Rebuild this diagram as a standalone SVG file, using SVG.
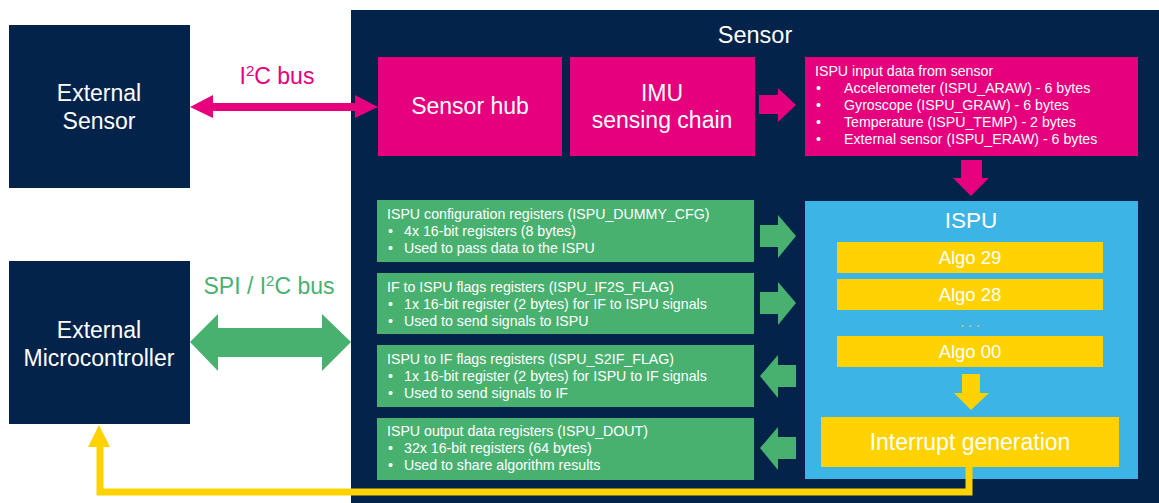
<svg xmlns="http://www.w3.org/2000/svg" width="1159" height="503" viewBox="0 0 1159 503">
<style>
text{font-family:"Liberation Sans",Arial,sans-serif;fill:#fff}
.big{font-size:23px;text-anchor:middle}
.sm{font-size:14.2px}
.algo{font-size:18.5px;text-anchor:middle}
.navy{fill:#03234B}
.pink{fill:#E6007E}
.green{fill:#49B170}
.blue{fill:#3CB4E6}
.yel{fill:#FFD200}
</style>
<rect width="1159" height="503" fill="#fff"/>
<g id="sensor"><rect class="navy" x="351" y="10" width="808" height="493"/><text class="big" x="755" y="43" style="font-size:23.5px">Sensor</text></g>
<g id="ext-sensor"><rect class="navy" x="9" y="25" width="181" height="163"/><text class="big" x="99" y="101">External</text><text class="big" x="99" y="129">Sensor</text></g>
<g id="ext-mcu"><rect class="navy" x="9" y="261" width="181" height="163"/><text class="big" x="99" y="338">External</text><text class="big" x="99" y="366">Microcontroller</text></g>
<g id="sensor-hub"><rect class="pink" x="378" y="57" width="184" height="99"/><text class="big" x="470" y="114">Sensor hub</text></g>
<g id="imu"><rect class="pink" x="570" y="57" width="185" height="99"/><text class="big" x="662" y="101">IMU</text><text class="big" x="662" y="128">sensing chain</text></g>
<g id="input-data"><rect class="pink" x="805" y="57" width="333" height="99"/>
<text class="sm" x="815" y="76">ISPU input data from sensor</text>
<text class="sm" x="816" y="93">•</text><text class="sm" x="844" y="93">Accelerometer (ISPU_ARAW) - 6 bytes</text>
<text class="sm" x="816" y="110">•</text><text class="sm" x="844" y="110">Gyroscope (ISPU_GRAW) - 6 bytes</text>
<text class="sm" x="816" y="127">•</text><text class="sm" x="844" y="127">Temperature (ISPU_TEMP) - 2 bytes</text>
<text class="sm" x="816" y="144">•</text><text class="sm" x="844" y="144">External sensor (ISPU_ERAW) - 6 bytes</text>
</g>
<g id="reg-cfg"><rect class="green" x="377" y="200" width="377" height="62"/>
<text class="sm" x="387" y="219">ISPU configuration registers (ISPU_DUMMY_CFG)</text>
<text class="sm" x="388" y="236">•</text><text class="sm" x="404" y="236">4x 16-bit registers (8 bytes)</text>
<text class="sm" x="388" y="253">•</text><text class="sm" x="404" y="253">Used to pass data to the ISPU</text>
</g>
<g id="reg-if2s"><rect class="green" x="377" y="273" width="377" height="61"/>
<text class="sm" x="387" y="292">IF to ISPU flags registers (ISPU_IF2S_FLAG)</text>
<text class="sm" x="388" y="309">•</text><text class="sm" x="404" y="309">1x 16-bit register (2 bytes) for IF to ISPU signals</text>
<text class="sm" x="388" y="326">•</text><text class="sm" x="404" y="326">Used to send signals to ISPU</text>
</g>
<g id="reg-s2if"><rect class="green" x="377" y="345" width="377" height="62"/>
<text class="sm" x="387" y="364">ISPU to IF flags registers (ISPU_S2IF_FLAG)</text>
<text class="sm" x="388" y="381">•</text><text class="sm" x="404" y="381">1x 16-bit register (2 bytes) for ISPU to IF signals</text>
<text class="sm" x="388" y="398">•</text><text class="sm" x="404" y="398">Used to send signals to IF</text>
</g>
<g id="reg-dout"><rect class="green" x="377" y="418" width="377" height="62"/>
<text class="sm" x="387" y="436">ISPU output data registers (ISPU_DOUT)</text>
<text class="sm" x="388" y="453">•</text><text class="sm" x="404" y="453">32x 16-bit registers (64 bytes)</text>
<text class="sm" x="388" y="470">•</text><text class="sm" x="404" y="470">Used to share algorithm results</text>
</g>
<g id="ispu"><rect class="blue" x="805" y="201" width="333" height="278"/><text class="big" x="971" y="228" style="font-size:22.5px">ISPU</text>
<rect class="yel" x="837" y="242" width="266" height="31"/><text class="algo" x="970" y="264">Algo 29</text>
<rect class="yel" x="837" y="279" width="266" height="31"/><text class="algo" x="970" y="301">Algo 28</text>
<text class="algo" x="970" y="327" style="font-size:14px;fill:#FFD200">. . .</text>
<rect class="yel" x="837" y="336" width="266" height="31"/><text class="algo" x="970" y="358">Algo 00</text>
<polygon class="yel" points="962,374 980,374 980,393 989,393 971,410 954,393 962,393"/>
</g>
<g id="interrupt"><rect class="yel" x="821" y="417" width="298" height="50"/><text class="big" x="970" y="450">Interrupt generation</text></g>
<g id="connectors">
<polygon class="pink" points="190,107 213,95 213,103 355,103 355,95 378,107 355,118 355,111 213,111 213,118"/>
<text x="277" y="84" style="font-size:23px;text-anchor:middle;fill:#E6007E">I<tspan font-size="15" dy="-8">2</tspan><tspan dy="8">C bus</tspan></text>
<polygon class="green" points="190,342 218,314 218,328 322,328 322,314 351,342 322,371 322,357 218,357 218,371"/>
<text x="269" y="294" style="font-size:23px;text-anchor:middle;fill:#49B170">SPI / I<tspan font-size="15" dy="-8">2</tspan><tspan dy="8">C bus</tspan></text>
<polygon class="pink" points="759,95 778,95 778,88 796,105 778,122 778,114 759,114"/>
<polygon class="pink" points="961,160 982,160 982,178 989,178 971,196 953,178 961,178"/>
<polygon class="green" points="760,225 778,225 778,215 796,236 778,258 778,247 760,247"/>
<polygon class="green" points="760,292 778,292 778,282 796,303 778,325 778,314 760,314"/>
<polygon class="green" points="796,365 778,365 778,355 760,376 778,398 778,387 796,387"/>
<polygon class="green" points="796,437 778,437 778,427 760,448 778,470 778,459 796,459"/>
<polyline points="969,467 969,492 100,492 100,445" fill="none" stroke="#FFD200" stroke-width="7"/>
<polygon class="yel" points="88,447 99,425 110,447"/>
</g>
</svg>
